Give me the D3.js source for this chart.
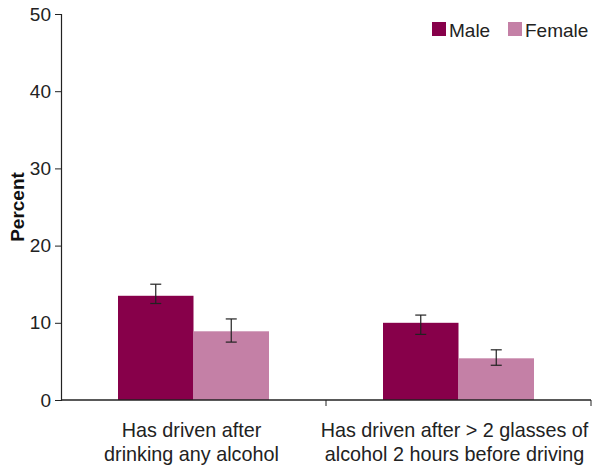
<!DOCTYPE html>
<html><head><meta charset="utf-8">
<script src="https://cdn.jsdelivr.net/npm/d3@7"></script>
<style>body{margin:0;background:#fff}svg{display:block;font-family:"Liberation Sans",Arial,sans-serif}</style>
</head><body>
<svg id="c" width="595" height="466"></svg>
<script>
const categories = [["Has driven after","drinking any alcohol"],["Has driven after > 2 glasses of","alcohol 2 hours before driving"]];
const seriesNames = ["Male","Female"];
const maleValues = [13.5, 10.0];
const femaleValues = [8.9, 5.4];
const maleLow = [12.5, 8.5];
const maleHigh = [15.0, 11.0];
const femaleLow = [7.5, 4.5];
const femaleHigh = [10.5, 6.5];
const yTicks = [0,10,20,30,40,50];
const colors = ["#87004A","#C480A6"];

(function(){
const FONT = "'Liberation Sans',Arial,sans-serif";
const svg = d3.select("#c");
const mLeft = 61, mRight = 591, mTop = 14, mBottom = 400;
const x0 = d3.scaleBand().domain([0,1]).range([mLeft,mRight]).paddingInner(0).paddingOuter(0);
const y = d3.scaleLinear().domain([0,50]).range([mBottom,mTop]);
const groupW = 151;
const x1 = d3.scaleBand().domain(seriesNames).range([0,groupW]);

const data = [maleValues, femaleValues];
const lows = [maleLow, femaleLow];
const highs = [maleHigh, femaleHigh];

seriesNames.forEach((s,si)=>{
  categories.forEach((c,ci)=>{
    const gx = x0(ci) + (x0.bandwidth()-groupW)/2;
    const bx = gx + x1(s);
    svg.append("rect").attr("x",bx).attr("y",y(data[si][ci]))
      .attr("width",x1.bandwidth()).attr("height",y(0)-y(data[si][ci]))
      .attr("fill",colors[si]);
  });
});
seriesNames.forEach((s,si)=>{
  categories.forEach((c,ci)=>{
    const gx = x0(ci) + (x0.bandwidth()-groupW)/2;
    const cx = gx + x1(s) + x1.bandwidth()/2;
    const g = svg.append("g").attr("stroke","#222").attr("stroke-width",1.2);
    g.append("line").attr("x1",cx).attr("x2",cx).attr("y1",y(lows[si][ci])).attr("y2",y(highs[si][ci]));
    g.append("line").attr("x1",cx-5.5).attr("x2",cx+5.5).attr("y1",y(lows[si][ci])).attr("y2",y(lows[si][ci]));
    g.append("line").attr("x1",cx-5.5).attr("x2",cx+5.5).attr("y1",y(highs[si][ci])).attr("y2",y(highs[si][ci]));
  });
});

const ya = svg.append("g").attr("transform",`translate(${mLeft},0)`)
  .call(d3.axisLeft(y).tickValues(yTicks).tickSize(6).tickPadding(4));
ya.select(".domain").attr("stroke","#222").attr("stroke-width",1.2);
ya.selectAll(".tick line").attr("stroke","#222");
ya.selectAll(".tick text").attr("font-size",19).attr("fill","#222").style("font-family",FONT);

const xa = svg.append("g").attr("transform",`translate(0,${mBottom})`);
xa.append("line").attr("x1",mLeft).attr("x2",mRight).attr("stroke","#222").attr("stroke-width",1.5);
[x0(1), mRight].forEach(v=>{
  xa.append("line").attr("x1",v).attr("x2",v).attr("y1",0).attr("y2",6).attr("stroke","#222");
});
categories.forEach((c,ci)=>{
  const t = xa.append("text").attr("text-anchor","middle").attr("font-size",19.8).attr("fill","#222");
  c.forEach((line,li)=>{
    t.append("tspan").attr("x",x0(ci)+x0.bandwidth()/2 - 2 - ci*2).attr("y",37+li*23.5).text(line);
  });
});

svg.append("text").attr("transform","translate(24,207) rotate(-90)").attr("text-anchor","middle")
  .attr("font-size",19).attr("font-weight","bold").attr("fill","#111").text("Percent");

const leg = [432,508];
seriesNames.forEach((s,i)=>{
  svg.append("rect").attr("x",leg[i]).attr("y",22).attr("width",14).attr("height",14).attr("fill",colors[i]);
  svg.append("text").attr("x",leg[i]+17).attr("y",36.5).attr("font-size",19).attr("fill","#222").text(s);
});
})();
</script>
</body></html>
